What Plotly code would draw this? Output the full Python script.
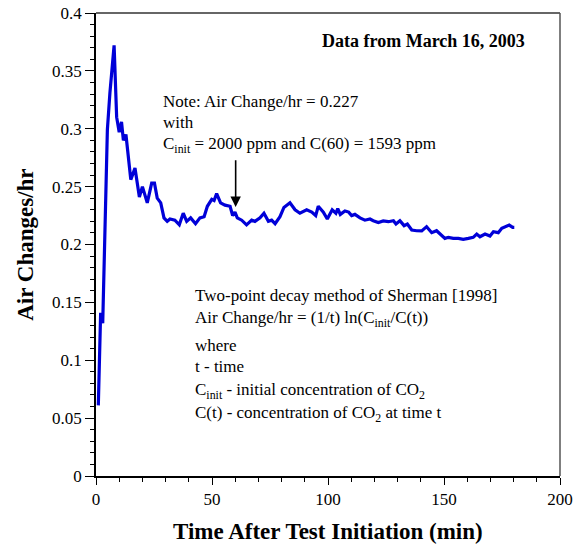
import plotly.graph_objects as go

# Time after test initiation (min)
time_min = [1, 2, 2.9, 4.9, 6, 7.8, 8.9, 10, 11, 11.8, 12.9, 15, 16.8, 18.7, 20,
            22.1, 24, 25.2, 26.4, 27.9, 29.3, 30.7, 31.9, 34, 35.9, 37.6, 39.1,
            40.8, 42.9, 44.8, 46.6, 48, 49.9, 50.9, 52, 53.7, 55.6, 57.8, 58.9,
            59.9, 60.9, 62.8, 64.9, 67.1, 68.5, 70.7, 72.4, 74.3, 75.7, 77.2,
            79.3, 81, 83.6, 85.8, 87.9, 90.8, 93, 94.7, 95.8, 98, 99.7, 101.8,
            103.4, 104.2, 105.3, 107.3, 108.9, 110.2, 111.6, 113.8, 115.9, 118.1,
            119.5, 121.7, 123.8, 126, 128.2, 129.3, 131, 132.8, 134.2, 136.1,
            138.2, 140.4, 142.5, 144.7, 146.8, 149, 150.4, 151.9, 154, 156.2,
            158.3, 160.5, 162.6, 164.1, 165.5, 167.7, 169.8, 171.3, 173.4, 174.9,
            177, 178.1, 179.6, 180.3]

# Air changes per hour
air_changes = [0.061, 0.141, 0.132, 0.299, 0.331, 0.372, 0.310, 0.297, 0.306, 0.290,
               0.295, 0.256, 0.266, 0.241, 0.250, 0.236, 0.253, 0.253, 0.240, 0.236,
               0.223, 0.220, 0.222, 0.221, 0.217, 0.227, 0.220, 0.223, 0.218, 0.223,
               0.224, 0.233, 0.239, 0.238, 0.244, 0.236, 0.234, 0.233, 0.225, 0.228,
               0.223, 0.221, 0.217, 0.221, 0.220, 0.223, 0.227, 0.220, 0.221, 0.218,
               0.224, 0.232, 0.236, 0.230, 0.227, 0.230, 0.228, 0.225, 0.233, 0.228,
               0.222, 0.230, 0.227, 0.231, 0.226, 0.229, 0.228, 0.225, 0.226, 0.223,
               0.221, 0.222, 0.2206, 0.219, 0.2203, 0.2197, 0.2206, 0.2177, 0.2206,
               0.2163, 0.2177, 0.2125, 0.2119, 0.2117, 0.2154, 0.2102, 0.2119, 0.2082,
               0.2053, 0.2062, 0.2053, 0.2053, 0.2045, 0.2053, 0.2062, 0.209, 0.2067,
               0.209, 0.2073, 0.211, 0.2102, 0.214, 0.216, 0.2168, 0.2148, 0.2148]

x_ticks = [0, 50, 100, 150, 200]
y_ticks = [0, 0.05, 0.1, 0.15, 0.2, 0.25, 0.3, 0.35, 0.4]

note_lines = ["Note: Air Change/hr = 0.227",
              "with",
              "C<sub>init</sub> = 2000 ppm and C(60) = 1593 ppm"]
method_lines = ["Two-point decay method of Sherman [1998]",
                "Air Change/hr = (1/t) ln(C<sub>init</sub>/C(t))",
                "where",
                "t - time",
                "C<sub>init</sub> - initial concentration of CO<sub>2</sub>",
                "C(t) - concentration of CO<sub>2</sub> at time t"]

FONT = "Liberation Serif"

fig = go.Figure()
fig.add_trace(go.Scatter(x=time_min, y=air_changes, mode="lines",
                         line=dict(color="#0000D8", width=3.2), showlegend=False,
                         hoverinfo="skip"))

annotations = []
note_tops = [0.833, 0.788, 0.742]
for txt, yy in zip(note_lines, note_tops):
    annotations.append(dict(text=txt, xref="paper", yref="paper", x=0.140, y=yy,
                            xanchor="left", yanchor="top", showarrow=False,
                            font=dict(family=FONT, size=17, color="black")))
method_tops = [0.414, 0.367, 0.306, 0.262, 0.211, 0.161]
for txt, yy in zip(method_lines, method_tops):
    annotations.append(dict(text=txt, xref="paper", yref="paper", x=0.209, y=yy,
                            xanchor="left", yanchor="top", showarrow=False,
                            font=dict(family=FONT, size=17, color="black")))

annotations.append(dict(text="<b>Data from March 16, 2003</b>", xref="paper", yref="paper",
                        x=0.705, y=0.9395, xanchor="center", yanchor="middle",
                        showarrow=False, font=dict(family=FONT, size=18, color="black")))

annotations.append(dict(text="", x=60.2, y=0.2324, xref="x", yref="y",
                        ax=60.2, ay=0.274, axref="x", ayref="y", showarrow=True,
                        arrowhead=2, arrowsize=1.3, arrowwidth=1.6, arrowcolor="black",
                        standoff=0))

annotations.append(dict(text="<b>Time After Test Initiation (min)</b>", xref="paper",
                        yref="paper", x=0.5, y=-0.1188, xanchor="center", yanchor="middle",
                        showarrow=False, font=dict(family=FONT, size=23, color="black")))
annotations.append(dict(text="<b>Air Changes/hr</b>", xref="paper", yref="paper",
                        x=-0.1525, y=0.5, xanchor="center", yanchor="middle", textangle=-90,
                        showarrow=False, font=dict(family=FONT, size=23, color="black")))

fig.update_layout(
    template=None,
    width=585, height=548,
    margin=dict(l=96, r=25, t=13, b=72, autoexpand=False),
    paper_bgcolor="white", plot_bgcolor="white",
    font=dict(family=FONT, size=17, color="black"),
    annotations=annotations,
    shapes=[
        dict(type="line", xref="paper", yref="paper", x0=0, x1=1, y0=1, y1=1,
             line=dict(color="#333333", width=1.5)),
        dict(type="line", xref="paper", yref="paper", x0=1, x1=1, y0=0, y1=1,
             line=dict(color="#555555", width=1.5)),
    ],
)
fig.update_xaxes(range=[0, 200], tickvals=x_ticks, ticktext=[str(v) for v in x_ticks],
                 automargin=False,
                 showgrid=False, zeroline=False, showline=True, linecolor="black",
                 linewidth=1.5, ticks="outside", ticklen=7, tickwidth=1.3, tickcolor="black",
                 minor=dict(dtick=10, ticks="outside", ticklen=4, tickwidth=1.2,
                            tickcolor="black", showgrid=False),
                 tickfont=dict(family=FONT, size=17, color="black"))
fig.update_yaxes(range=[0, 0.4], tickvals=y_ticks,
                 ticktext=[("%g" % v) for v in y_ticks],
                 automargin=False,
                 showgrid=False, zeroline=False, showline=True, linecolor="black",
                 linewidth=1.5, ticks="outside", ticklen=9, tickwidth=1.3, tickcolor="black",
                 minor=dict(dtick=0.01, ticks="outside", ticklen=4, tickwidth=1.2,
                            tickcolor="black", showgrid=False),
                 tickfont=dict(family=FONT, size=17, color="black"))

fig.write_html("out.html", config={"displayModeBar": False},
               post_script="document.body.style.margin='0';document.body.style.overflow='hidden';")
